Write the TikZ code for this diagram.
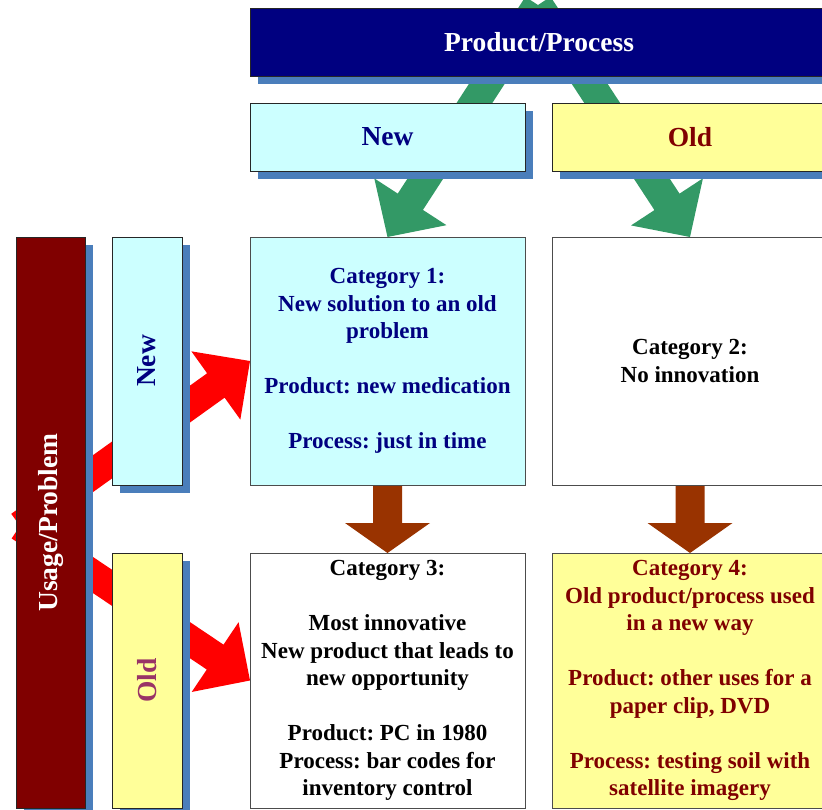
\documentclass[tikz,border=0pt]{standalone}
\usepackage{fontspec}
\setmainfont{Liberation Serif}
\usetikzlibrary{calc,shadows}
\frenchspacing

\pgfdeclarelayer{arrows}
\pgfsetlayers{arrows,main}

\definecolor{navybox}{RGB}{0,0,128}
\definecolor{navytext}{RGB}{0,0,128}
\definecolor{shadowblue}{RGB}{74,126,187}
\definecolor{cyanbox}{RGB}{204,255,255}
\definecolor{yellowbox}{RGB}{255,255,153}
\definecolor{maroon}{RGB}{128,0,0}
\definecolor{mauve}{RGB}{153,51,102}
\definecolor{arrowgreen}{RGB}{51,153,102}
\definecolor{arrowbrown}{RGB}{153,51,0}
\definecolor{arrowred}{RGB}{255,0,0}

\tikzset{
  box/.style={draw=black!85, line width=0.8pt, inner sep=0pt, outer sep=0pt,
              anchor=north west, align=center},
  shadowed/.style={drop shadow={shadow xshift=8pt, shadow yshift=-8pt,
                   fill=shadowblue, opacity=1}},
  headfont/.style={font=\fontsize{27.5}{33}\selectfont\bfseries},
  catfont/.style={font=\fontsize{23}{27.5}\selectfont\bfseries\frenchspacing},
  catbox/.style={box, draw=black!70, catfont},
}

% block arrow: #1 colour, #2 tail, #3 tip, #4 shaft half-width,
% #5 head half-width, #6 head length
\newcommand\blockarrow[6]{%
  \path ($(#3)!#6!(#2)$) coordinate (ba-neck);
  \fill[#1] ($(#2)!#4!90:(#3)$) -- ($(ba-neck)!#4!90:(#3)$)
    -- ($(ba-neck)!#5!90:(#3)$) -- (#3) -- ($(ba-neck)!#5!-90:(#3)$)
    -- ($(ba-neck)!#4!-90:(#3)$) -- ($(#2)!#4!-90:(#3)$) -- cycle;
}

\begin{document}
\begin{tikzpicture}[x=1pt,y=-1pt]
\path[use as bounding box, clip] (0,0) rectangle (822,810);

% column headers
\node[box, shadowed, fill=navybox, text=white, headfont,
      minimum width=578pt, minimum height=68pt] (pp) at (250,8) {Product/Process};
\node[box, shadowed, fill=cyanbox, text=navytext, headfont,
      minimum width=275pt, minimum height=68pt] (pnew) at (250,103) {New};
\node[box, shadowed, fill=yellowbox, text=maroon, headfont,
      minimum width=276pt, minimum height=68pt] (pold) at (552,103) {Old};

% row headers
\node[box, shadowed, fill=maroon,
      minimum width=69pt, minimum height=571pt] (up) at (16,237) {};
\node[headfont, text=white, rotate=90] (uplabel) at (up.center) {Usage/Problem};
\node[box, shadowed, fill=cyanbox,
      minimum width=70pt, minimum height=248pt] (unew) at (112,237) {};
\node[headfont, text=navytext, rotate=90] (unewlabel) at (unew.center) {New};
\node[box, shadowed, fill=yellowbox,
      minimum width=70pt, minimum height=255pt] (uold) at (112,553) {};
\node[headfont, text=mauve, rotate=90] (uoldlabel) at (uold.center) {Old};

% the four categories
\node[catbox, fill=cyanbox, text=navytext,
      minimum width=275pt, minimum height=248pt] (c1) at (250,237)
  {Category 1:\\New solution to an old\\problem\\[27.5pt]Product: new medication\\[27.5pt]Process: just in time};
\node[catbox, fill=white, text=black,
      minimum width=276pt, minimum height=248pt] (c2) at (552,237)
  {Category 2:\\No innovation};
\node[catbox, fill=white, text=black,
      minimum width=275pt, minimum height=255pt] (c3) at (250,553)
  {Category 3:\\[27.5pt]Most innovative\\New product that leads to\\new opportunity\\[27.5pt]Product: PC in 1980\\Process: bar codes for\\inventory control};
\node[catbox, fill=yellowbox, text=maroon,
      minimum width=276pt, minimum height=255pt] (c4) at (552,553)
  {Category 4:\\Old product/process used\\in a new way\\[27.5pt]Product: other uses for a\\paper clip, DVD\\[27.5pt]Process: testing soil with\\satellite imagery};

% arrow sources behind the headers
\coordinate (gsrc) at (538,5);
\coordinate (rsrc) at (20,526);

\begin{pgfonlayer}{arrows}
  \blockarrow{arrowgreen}{gsrc}{c1.north}{15pt}{43pt}{42pt}
  \blockarrow{arrowgreen}{gsrc}{c2.north}{15pt}{43pt}{42pt}
  \blockarrow{arrowred}{rsrc}{c1.west}{15pt}{42pt}{42pt}
  \blockarrow{arrowred}{rsrc}{c3.west}{15pt}{42pt}{42pt}
  \blockarrow{arrowbrown}{c1.south}{c3.north}{14.5pt}{42.5pt}{30pt}
  \blockarrow{arrowbrown}{c2.south}{c4.north}{14.5pt}{42.5pt}{30pt}
\end{pgfonlayer}
\end{tikzpicture}
\end{document}
